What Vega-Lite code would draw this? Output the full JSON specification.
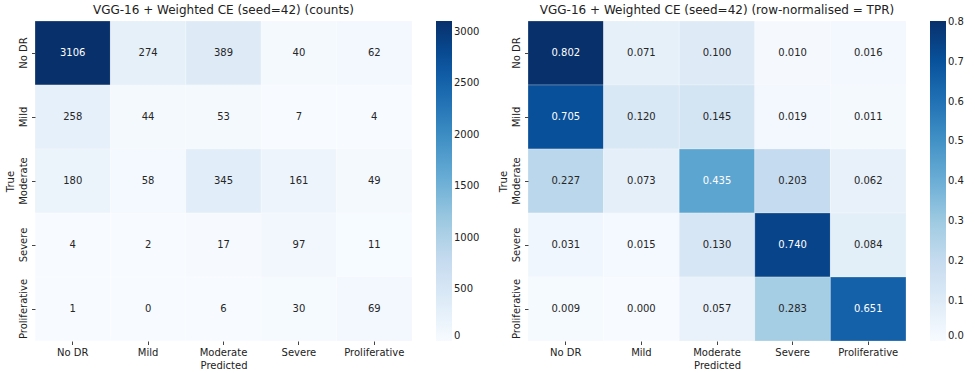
{
  "$schema": "https://vega.github.io/schema/vega-lite/v6.json",
  "background": "white",
  "padding": {"left": 5, "top": 3, "right": 5, "bottom": 5},
  "config": {
    "font": "DejaVu Sans",
    "view": {"stroke": null},
    "title": {"fontSize": 12, "fontWeight": "normal", "color": "#222", "offset": 4, "font": "DejaVu Sans"},
    "axis": {"labelFontSize": 10, "titleFontSize": 10, "titleFontWeight": "normal", "labelColor": "#222", "titleColor": "#222", "domain": false, "grid": false, "tickColor": "#444", "tickSize": 3.5, "labelPadding": 3, "titlePadding": 3},
    "legend": {"labelFontSize": 10, "labelColor": "#222", "gradientLength": 320, "gradientThickness": 16, "labelOffset": 6, "offset": 24, "padding": 0, "gradientStrokeWidth": 0}
  },
  "data": {
    "values": [
      {"t": "No DR", "p": "No DR", "count": 3106, "norm": 0.802},
      {"t": "No DR", "p": "Mild", "count": 274, "norm": 0.071},
      {"t": "No DR", "p": "Moderate", "count": 389, "norm": 0.100},
      {"t": "No DR", "p": "Severe", "count": 40, "norm": 0.010},
      {"t": "No DR", "p": "Proliferative", "count": 62, "norm": 0.016},
      {"t": "Mild", "p": "No DR", "count": 258, "norm": 0.705},
      {"t": "Mild", "p": "Mild", "count": 44, "norm": 0.120},
      {"t": "Mild", "p": "Moderate", "count": 53, "norm": 0.145},
      {"t": "Mild", "p": "Severe", "count": 7, "norm": 0.019},
      {"t": "Mild", "p": "Proliferative", "count": 4, "norm": 0.011},
      {"t": "Moderate", "p": "No DR", "count": 180, "norm": 0.227},
      {"t": "Moderate", "p": "Mild", "count": 58, "norm": 0.073},
      {"t": "Moderate", "p": "Moderate", "count": 345, "norm": 0.435},
      {"t": "Moderate", "p": "Severe", "count": 161, "norm": 0.203},
      {"t": "Moderate", "p": "Proliferative", "count": 49, "norm": 0.062},
      {"t": "Severe", "p": "No DR", "count": 4, "norm": 0.031},
      {"t": "Severe", "p": "Mild", "count": 2, "norm": 0.015},
      {"t": "Severe", "p": "Moderate", "count": 17, "norm": 0.130},
      {"t": "Severe", "p": "Severe", "count": 97, "norm": 0.740},
      {"t": "Severe", "p": "Proliferative", "count": 11, "norm": 0.084},
      {"t": "Proliferative", "p": "No DR", "count": 1, "norm": 0.009},
      {"t": "Proliferative", "p": "Mild", "count": 0, "norm": 0.000},
      {"t": "Proliferative", "p": "Moderate", "count": 6, "norm": 0.057},
      {"t": "Proliferative", "p": "Severe", "count": 30, "norm": 0.283},
      {"t": "Proliferative", "p": "Proliferative", "count": 69, "norm": 0.651}
    ]
  },
  "spacing": 18,
  "resolve": {"scale": {"color": "independent"}, "legend": {"color": "independent"}},
  "hconcat": [
    {
      "title": "VGG-16 + Weighted CE (seed=42) (counts)",
      "width": 377,
      "height": 320,
      "encoding": {
        "x": {"field": "p", "type": "nominal", "title": "Predicted", "sort": ["No DR", "Mild", "Moderate", "Severe", "Proliferative"], "scale": {"paddingInner": 0, "paddingOuter": 0}, "axis": {"labelAngle": 0}},
        "y": {"field": "t", "type": "nominal", "title": "True", "sort": ["No DR", "Mild", "Moderate", "Severe", "Proliferative"], "scale": {"paddingInner": 0, "paddingOuter": 0}, "axis": {"labelAngle": -90, "labelAlign": "center", "labelBaseline": "bottom"}}
      },
      "layer": [
        {
          "mark": {"type": "rect", "stroke": "white", "strokeWidth": 0.25},
          "encoding": {
            "color": {"field": "count", "type": "quantitative", "title": null,
              "scale": {"type": "linear", "interpolate": "rgb", "domain": [0, 388.25, 776.5, 1164.75, 1553, 1941.25, 2329.5, 2717.75, 3106], "range": ["#f7fbff", "#deebf7", "#c6dbef", "#9ecae1", "#6baed6", "#4292c6", "#2171b5", "#08519c", "#08306b"]},
              "legend": {"type": "gradient", "values": [0, 500, 1000, 1500, 2000, 2500, 3000], "format": "d", "direction": "vertical"}}
          }
        },
        {
          "mark": {"type": "text", "fontSize": 10},
          "encoding": {
            "text": {"field": "count", "type": "quantitative", "format": "d"},
            "color": {"condition": {"test": "datum.count > 1553", "value": "white"}, "value": "#262626"}
          }
        }
      ]
    },
    {
      "title": "VGG-16 + Weighted CE (seed=42) (row-normalised = TPR)",
      "width": 378,
      "height": 320,
      "encoding": {
        "x": {"field": "p", "type": "nominal", "title": "Predicted", "sort": ["No DR", "Mild", "Moderate", "Severe", "Proliferative"], "scale": {"paddingInner": 0, "paddingOuter": 0}, "axis": {"labelAngle": 0}},
        "y": {"field": "t", "type": "nominal", "title": "True", "sort": ["No DR", "Mild", "Moderate", "Severe", "Proliferative"], "scale": {"paddingInner": 0, "paddingOuter": 0}, "axis": {"labelAngle": -90, "labelAlign": "center", "labelBaseline": "bottom"}}
      },
      "layer": [
        {
          "mark": {"type": "rect", "stroke": "white", "strokeWidth": 0.25},
          "encoding": {
            "color": {"field": "norm", "type": "quantitative", "title": null,
              "scale": {"type": "linear", "interpolate": "rgb", "domain": [0, 0.10025, 0.2005, 0.30075, 0.401, 0.50125, 0.6015, 0.70175, 0.802], "range": ["#f7fbff", "#deebf7", "#c6dbef", "#9ecae1", "#6baed6", "#4292c6", "#2171b5", "#08519c", "#08306b"]},
              "legend": {"type": "gradient", "values": [0, 0.1, 0.2, 0.3, 0.4, 0.5, 0.6, 0.7, 0.8], "format": ".1f", "direction": "vertical"}}
          }
        },
        {
          "mark": {"type": "text", "fontSize": 10},
          "encoding": {
            "text": {"field": "norm", "type": "quantitative", "format": ".3f"},
            "color": {"condition": {"test": "datum.norm > 0.401", "value": "white"}, "value": "#262626"}
          }
        }
      ]
    }
  ]
}
